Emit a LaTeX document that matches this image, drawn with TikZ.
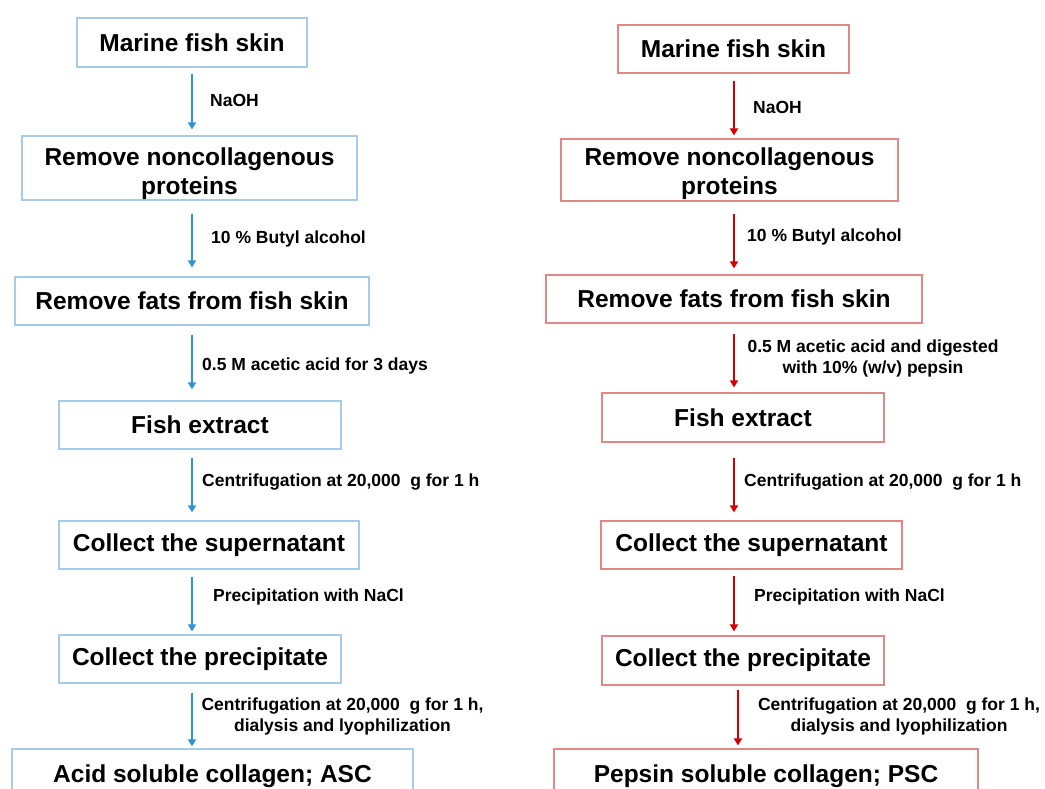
\documentclass[tikz,border=0pt]{standalone}
\usepackage{fontspec}
\setmainfont{Liberation Sans}
\usetikzlibrary{arrows.meta}
\definecolor{bluearrow}{HTML}{2E95D3}
\definecolor{blueborder}{HTML}{A8CCE8}
\definecolor{redarrow}{HTML}{D40000}
\definecolor{redborder}{HTML}{E08888}
\tikzset{
  box/.style={draw, line width=1.2pt, rectangle, inner sep=0pt, align=center,
    font=\fontsize{24.5}{29.5}\selectfont\bfseries, text=black},
  bbox/.style={box, draw=blueborder},
  rbox/.style={box, draw=redborder},
  flow/.style={line width=1.8pt, -{Triangle[length=7pt,width=8pt]}},
  barrow/.style={flow, draw=bluearrow},
  rarrow/.style={flow, draw=redarrow},
  lbl/.style={inner sep=0pt, align=center, text=black,
    font=\fontsize{17.5}{21}\selectfont\bfseries},
}
\begin{document}
\begin{tikzpicture}[x=1pt,y=-1pt]
\useasboundingbox (0,0) rectangle (1045,789);
\clip (0,0) rectangle (1045,789);
\fill[white] (0,0) rectangle (1045,789);

% ---- left column (ASC) ----
\node[bbox, minimum width=230pt, minimum height=49pt] (L1) at (192,42.5) {Marine fish skin};
\node[bbox, minimum width=335pt, minimum height=64pt] (L2) at (189.5,168) {\rule{0pt}{29pt}Remove noncollagenous\\proteins};
\node[bbox, minimum width=354pt, minimum height=48pt] (L3) at (192,301) {Remove fats from fish skin};
\node[bbox, minimum width=282pt, minimum height=48pt] (L4) at (200,425) {Fish extract};
\node[bbox, minimum width=300pt, minimum height=48pt] (L5) at (209,545) {Collect the supernatant};
\node[bbox, minimum width=282pt, minimum height=48pt] (L6) at (200,659) {Collect the precipitate};
\node[bbox, minimum width=401pt, minimum height=54pt] (L7) at (212.5,776) {Acid soluble collagen; ASC};

\coordinate (ax) at (192,0);
\draw[barrow, shorten <=6pt, shorten >=6pt] (L1.south -| ax) -- (L2.north -| ax);
\draw[barrow, shorten <=13pt, shorten >=9pt] (L2.south -| ax) -- (L3.north -| ax);
\draw[barrow, shorten <=9pt, shorten >=11pt] (L3.south -| ax) -- (L4.north -| ax);
\draw[barrow, shorten <=8pt, shorten >=8pt] (L4.south -| ax) -- (L5.north -| ax);
\draw[barrow, shorten <=7pt, shorten >=3pt] (L5.south -| ax) -- (L6.north -| ax);
\draw[barrow, shorten <=9pt, shorten >=2pt] (L6.south -| ax) -- (L7.north -| ax);

\node[lbl, anchor=west] (la1) at (210,100) {NaOH};
\node[lbl, anchor=west] (la2) at (211,239) {10 \% Butyl alcohol};
\node[lbl, anchor=west] (la3) at (202,366) {0.5 M acetic acid for 3 days};
\node[lbl, anchor=west] (la4) at (202,482) {Centrifugation at 20,000 \ g for 1 h};
\node[lbl, anchor=west] (la5) at (213,597) {Precipitation with NaCl};
\node[lbl] (la6) at (342.5,716.5) {Centrifugation at 20,000 \ g for 1 h,\\dialysis and lyophilization};

% ---- right column (PSC) ----
\node[rbox, minimum width=231pt, minimum height=48pt] (R1) at (733.5,49) {Marine fish skin};
\node[rbox, minimum width=337pt, minimum height=62pt] (R2) at (729.5,170) {\rule{0pt}{25.5pt}Remove noncollagenous\\proteins};
\node[rbox, minimum width=376pt, minimum height=48pt] (R3) at (734,299) {Remove fats from fish skin};
\node[rbox, minimum width=282pt, minimum height=49pt] (R4) at (743,417.5) {Fish extract};
\node[rbox, minimum width=301pt, minimum height=48pt] (R5) at (751.5,545) {Collect the supernatant};
\node[rbox, minimum width=282pt, minimum height=49pt] (R6) at (743,660.5) {Collect the precipitate};
\node[rbox, minimum width=424pt, minimum height=54pt] (R7) at (766,776) {Pepsin soluble collagen; PSC};

\coordinate (bx) at (734,0);
\coordinate (bx2) at (738,0);
\draw[rarrow, shorten <=7pt, shorten >=3pt] (R1.south -| bx) -- (R2.north -| bx);
\draw[rarrow, shorten <=12pt, shorten >=6pt] (R2.south -| bx) -- (R3.north -| bx);
\draw[rarrow, shorten <=10pt, shorten >=5pt] (R3.south -| bx) -- (R4.north -| bx);
\draw[rarrow, shorten <=15pt, shorten >=8pt] (R4.south -| bx) -- (R5.north -| bx);
\draw[rarrow, shorten <=6pt, shorten >=4pt] (R5.south -| bx) -- (R6.north -| bx);
\draw[rarrow, shorten <=4pt, shorten >=3pt] (R6.south -| bx2) -- (R7.north -| bx2);

\node[lbl, anchor=west] (lb1) at (753,107) {NaOH};
\node[lbl, anchor=west] (lb2) at (747,237) {10 \% Butyl alcohol};
\node[lbl] (lb3) at (873,358.5) {0.5 M acetic acid and digested\\with 10\% (w/v) pepsin};
\node[lbl, anchor=west] (lb4) at (744,482) {Centrifugation at 20,000 \ g for 1 h};
\node[lbl, anchor=west] (lb5) at (754,597) {Precipitation with NaCl};
\node[lbl] (lb6) at (899,716.5) {Centrifugation at 20,000 \ g for 1 h,\\dialysis and lyophilization};
\end{tikzpicture}
\end{document}
